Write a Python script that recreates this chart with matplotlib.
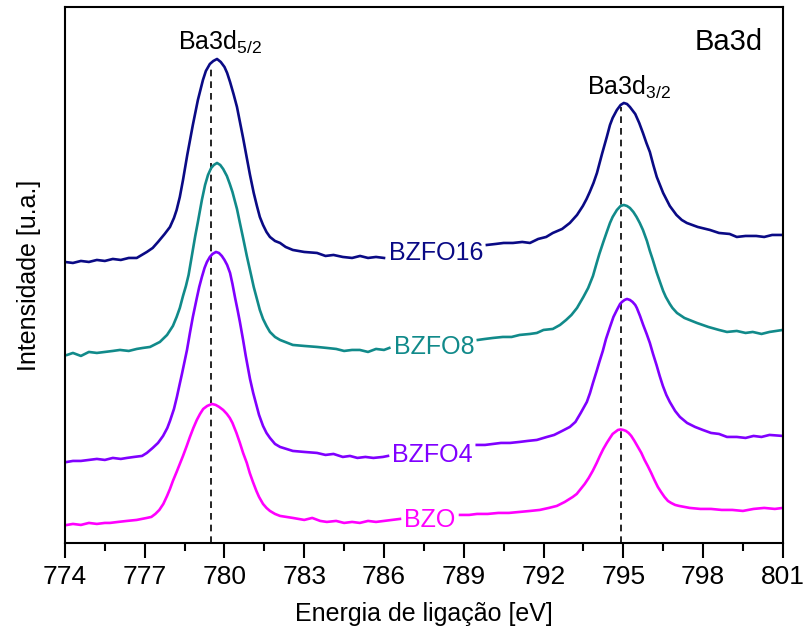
import matplotlib
matplotlib.use("Agg")
import matplotlib.pyplot as plt

plt.rcParams['font.family'] = ['Liberation Sans', 'DejaVu Sans']
plt.rcParams['mathtext.fontset'] = 'custom'
plt.rcParams['mathtext.rm'] = 'Liberation Sans'

# values (binding energy in eV, intensity in arb. units)
bzfo16_left_e = [774.0, 774.3, 774.6, 774.9, 775.2, 775.5, 775.8, 776.1, 776.4, 776.7, 777.08, 777.3,
                 777.5, 777.75, 777.95, 778.1, 778.2, 778.32, 778.44, 778.6, 778.81, 779.0, 779.19,
                 779.3, 779.45, 779.58, 779.72, 779.86, 780.0, 780.1, 780.21, 780.34, 780.47, 780.7,
                 780.84, 780.96, 781.1, 781.22, 781.33, 781.45, 781.58, 781.71, 781.9, 782.09, 782.3,
                 782.57, 783.0, 783.48, 783.8, 784.1, 784.45, 784.8, 785.1, 785.4, 785.7, 786.0]
bzfo16_left_i = [281, 280, 282, 281, 283, 282, 284, 283, 285, 285, 291, 295,
                 301, 309, 316, 325, 333, 346, 363, 388, 418, 443, 463,
                 472, 479, 482, 484, 481, 476, 470, 461, 449, 436, 405,
                 385, 368, 350, 337, 326, 318, 311, 306, 302, 300, 296,
                 293, 291, 290, 287, 288, 286, 285, 287, 285, 286, 285]
bzfo16_right_e = [789.87, 790.2, 790.5, 790.85, 791.2, 791.49, 791.8, 792.1, 792.35, 792.7, 792.99, 793.26,
                  793.48, 793.62, 793.74, 793.88, 794.01, 794.2, 794.38, 794.5, 794.6, 794.76, 794.9,
                  795.02, 795.14, 795.25, 795.45, 795.6, 795.74, 795.87, 796.0, 796.13, 796.26, 796.5,
                  796.75, 797.0, 797.2, 797.39, 797.8, 798.26, 798.6, 799.0, 799.27, 799.6, 800.0,
                  800.3, 800.6, 801.0]
bzfo16_right_i = [298, 299, 300, 300, 301, 300, 304, 306, 310, 314, 320, 328,
                  337, 344, 351, 360, 370, 389, 406, 418, 425, 433, 438,
                  440, 439, 436, 429, 420, 410, 400, 391, 378, 366, 350,
                  337, 328, 323, 320, 316, 313, 310, 309, 306, 307, 307,
                  306, 308, 308]

bzfo8_left_e = [774.08, 774.3, 774.6, 774.9, 775.2, 775.5, 775.8, 776.07, 776.4, 776.7, 776.93, 777.2,
                777.57, 777.84, 778.06, 778.2, 778.32, 778.44, 778.55, 778.65, 778.81, 778.9, 779.0,
                779.15, 779.27, 779.38, 779.5, 779.6, 779.72, 779.84, 779.95, 780.09, 780.2, 780.3,
                780.47, 780.58, 780.7, 780.84, 781.0, 781.1, 781.22, 781.33, 781.45, 781.58, 781.71,
                781.9, 782.09, 782.57, 783.0, 783.48, 783.85, 784.2, 784.5, 784.8, 785.09, 785.4,
                785.7, 786.0, 786.2]
bzfo8_left_i = [188, 190, 187, 191, 190, 191, 192, 193, 192, 194, 195, 196,
                201, 208, 217, 226, 235, 247, 257, 268, 293, 307, 321,
                343, 358, 368, 375, 378, 380, 378, 374, 367, 359, 351,
                334, 320, 305, 287, 268, 256, 244, 233, 224, 217, 211,
                206, 203, 198, 197, 196, 195, 194, 192, 193, 193, 191,
                194, 193, 195]
bzfo8_right_e = [789.53, 789.8, 790.1, 790.47, 790.8, 791.1, 791.49, 791.75, 792.0, 792.35, 792.62, 792.85,
                 793.05, 793.26, 793.5, 793.68, 793.86, 794.0, 794.1, 794.25, 794.38, 794.5, 794.6,
                 794.76, 794.9, 795.02, 795.14, 795.25, 795.38, 795.5, 795.62, 795.74, 795.89, 796.0,
                 796.1, 796.25, 796.38, 796.5, 796.6, 796.75, 796.85, 797.02, 797.3, 797.77, 798.2,
                 798.6, 798.9, 799.27, 799.6, 799.87, 800.2, 800.5, 801.0]
bzfo8_right_i = [203, 204, 205, 206, 206, 208, 209, 210, 213, 214, 218, 223,
                 228, 235, 246, 255, 267, 280, 289, 301, 311, 320, 326,
                 333, 337, 338, 337, 335, 331, 326, 320, 313, 302, 292,
                 284, 271, 261, 252, 246, 239, 235, 230, 225, 220, 216,
                 213, 211, 212, 210, 211, 209, 211, 213]

bzfo4_left_e = [774.08, 774.3, 774.6, 774.9, 775.2, 775.5, 775.8, 776.1, 776.33, 776.6, 776.9, 777.08,
                777.3, 777.5, 777.69, 777.85, 777.95, 778.1, 778.21, 778.3, 778.4, 778.59, 778.7,
                778.81, 778.96, 779.05, 779.15, 779.25, 779.34, 779.45, 779.55, 779.68, 779.79, 779.9,
                780.0, 780.1, 780.21, 780.3, 780.4, 780.5, 780.58, 780.7, 780.8, 780.96, 781.08,
                781.2, 781.3, 781.45, 781.58, 781.71, 781.9, 782.09, 782.57, 783.0, 783.48, 783.8,
                784.1, 784.45, 784.72, 785.0, 785.3, 785.6, 785.96, 786.15]
bzfo4_left_i = [81, 82, 82, 83, 84, 83, 85, 84, 85, 86, 87, 90,
                95, 100, 107, 115, 122, 134, 146, 157, 169, 193, 210,
                226, 245, 256, 266, 275, 281, 286, 289, 291, 290, 287,
                283, 278, 270, 259, 245, 232, 221, 203, 187, 164, 150,
                138, 128, 117, 110, 105, 99, 96, 92, 91, 90, 88,
                89, 86, 87, 85, 86, 85, 86, 87]
bzfo4_right_e = [789.49, 789.8, 790.1, 790.4, 790.74, 791.1, 791.4, 791.75, 792.13, 792.4, 792.7, 792.99,
                 793.2, 793.4, 793.63, 793.75, 793.86, 794.0, 794.1, 794.23, 794.35, 794.5, 794.63,
                 794.76, 794.88, 794.95, 795.05, 795.14, 795.25, 795.35, 795.45, 795.51, 795.63, 795.75,
                 795.88, 796.0, 796.12, 796.25, 796.37, 796.49, 796.62, 796.75, 796.95, 797.13, 797.4,
                 797.7, 797.99, 798.3, 798.6, 798.9, 799.27, 799.6, 799.9, 800.2, 800.5, 801.0]
bzfo4_right_i = [98, 98, 99, 100, 100, 101, 102, 103, 106, 108, 112, 116,
                 121, 130, 141, 150, 160, 172, 181, 192, 204, 216, 226,
                 233, 239, 241, 243, 244, 243, 241, 238, 235, 227, 218,
                 209, 200, 189, 178, 167, 157, 148, 141, 132, 126, 120,
                 116, 113, 110, 109, 106, 106, 105, 107, 106, 108, 107]

bzo_left_e = [774.08, 774.3, 774.6, 774.9, 775.2, 775.5, 775.69, 776.0, 776.33, 776.7, 777.08, 777.25,
              777.4, 777.55, 777.7, 777.84, 777.95, 778.06, 778.2, 778.32, 778.44, 778.58, 778.7,
              778.83, 778.96, 779.08, 779.2, 779.35, 779.53, 779.67, 779.8, 779.95, 780.09, 780.2,
              780.3, 780.45, 780.58, 780.7, 780.84, 780.95, 781.07, 781.2, 781.3, 781.45, 781.58,
              781.71, 781.9, 782.09, 782.57, 783.0, 783.3, 783.6, 783.85, 784.2, 784.5, 784.8,
              785.09, 785.4, 785.7, 786.0, 786.3, 786.6]
bzo_left_i = [18, 19, 18, 20, 19, 20, 20, 21, 22, 23, 25, 26,
              29, 33, 39, 47, 54, 62, 71, 79, 87, 97, 106,
              115, 123, 129, 134, 137, 139, 138, 136, 133, 129, 125,
              120, 110, 100, 90, 80, 70, 61, 52, 46, 39, 35,
              32, 29, 27, 25, 23, 25, 22, 21, 22, 20, 21,
              20, 22, 21, 22, 23, 24]
bzo_right_e = [788.86, 789.2, 789.5, 789.9, 790.3, 790.7, 791.1, 791.5, 791.86, 792.2, 792.5, 792.8,
               793.1, 793.25, 793.4, 793.55, 793.7, 793.85, 794.0, 794.12, 794.25, 794.38, 794.5,
               794.6, 794.7, 794.8, 794.9, 795.0, 795.1, 795.2, 795.3, 795.42, 795.55, 795.68,
               795.8, 795.92, 796.05, 796.17, 796.3, 796.42, 796.55, 796.68, 796.8, 796.95, 797.1,
               797.5, 797.9, 798.3, 798.7, 799.1, 799.5, 799.9, 800.3, 800.7, 801.0]
bzo_right_i = [28, 28, 29, 29, 30, 30, 31, 32, 33, 35, 37, 41,
               46, 49, 54, 59, 65, 72, 80, 87, 94, 100, 105,
               109, 111, 113, 113.5, 113, 112, 110, 107, 102, 96, 90,
               83, 77, 70, 63, 56, 51, 46, 42, 40, 38, 37,
               35, 34, 34, 33, 33, 32, 34, 35, 34, 35]

sample_names = ['BZFO16', 'BZFO8', 'BZFO4', 'BZO']
sample_colors = ['#0a0a85', '#118a8a', '#8000ff', '#ff00ff']
label_x = [787.95, 787.9, 787.8, 787.7]
label_y = [290, 196, 88, 23]

peak_pos = [779.5, 794.9]
peak_top = [478, 436]

fig, ax = plt.subplots(figsize=(8.07, 6.35), dpi=100)
fig.subplots_adjust(left=0.0805, right=0.970, bottom=0.145, top=0.989)

segments = [
    (bzfo16_left_e, bzfo16_left_i, bzfo16_right_e, bzfo16_right_i),
    (bzfo8_left_e, bzfo8_left_i, bzfo8_right_e, bzfo8_right_i),
    (bzfo4_left_e, bzfo4_left_i, bzfo4_right_e, bzfo4_right_i),
    (bzo_left_e, bzo_left_i, bzo_right_e, bzo_right_i),
]
for (le, li, re, ri), name, c, tx, ty in zip(segments, sample_names, sample_colors, label_x, label_y):
    ax.plot(le, li, color=c, lw=1.9)
    ax.plot(re, ri, color=c, lw=1.9)
    ax.text(tx, ty, name, color=c, fontsize=18, ha='center', va='center')

for xp, top in zip(peak_pos, peak_top):
    ax.plot([xp, xp], [0, top], color='black', lw=1.2, ls=(0, (4, 3)), zorder=0)

ax.text(779.85, 501, r'Ba3d$_{\mathrm{5/2}}$', fontsize=18, ha='center', va='center')
ax.text(795.2, 456, r'Ba3d$_{\mathrm{3/2}}$', fontsize=18, ha='center', va='center')
ax.text(0.925, 0.935, 'Ba3d', fontsize=21, ha='center', va='center', transform=ax.transAxes)

ax.set_xlim(774, 801)
ax.set_ylim(0, 536)
ax.set_xticks(range(774, 802, 3))
ax.set_xticks([774 + 1.5 * k for k in range(19)], minor=True)
ax.set_yticks([])
ax.tick_params(axis='x', which='major', direction='out', length=11, width=1.5, labelsize=19, pad=5)
ax.tick_params(axis='x', which='minor', direction='out', length=6, width=1.5)
for s in ax.spines.values():
    s.set_linewidth(1.5)

ax.set_xlabel('Energia de ligação [eV]', fontsize=18, labelpad=9)
ax.set_ylabel('Intensidade [u.a.]', fontsize=18, labelpad=17)

plt.savefig('out.png', dpi=100)
